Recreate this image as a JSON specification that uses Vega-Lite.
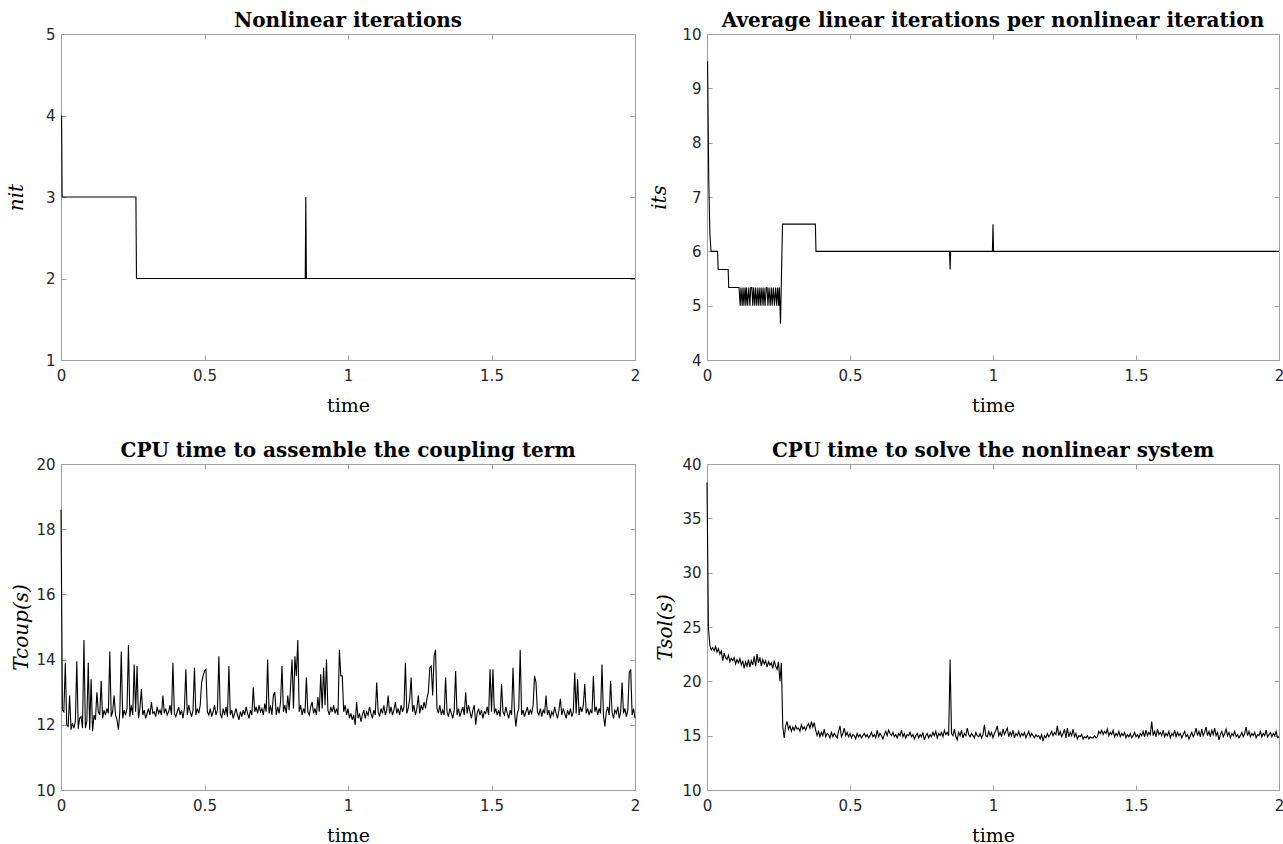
{
"$schema":"https://vega.github.io/schema/vega-lite/v6.json",
"padding":{"left":5,"top":10,"right":2,"bottom":2},
"background":"white",
"config":{
 "view":{"stroke":"#a0a0a0","strokeWidth":1},
 "axis":{"domain":false,"grid":false,"tickColor":"#a0a0a0","tickSize":-5,"tickWidth":1,"labelFont":"DejaVu Sans","labelFontSize":15,"labelColor":"#262626","labelFlush":false,"labelOverlap":false,"titleFont":"DejaVu Serif","titleFontSize":19,"titleFontWeight":"normal","titleColor":"#000000"},
 "axisX":{"labelPadding":13,"titlePadding":13},
 "axisY":{"labelPadding":11,"titlePadding":10},
 "title":{"font":"DejaVu Serif","fontSize":20,"fontWeight":"bold","color":"#000000","offset":-4,"baseline":"alphabetic"},
 "line":{"color":"#000000","strokeWidth":1.1}
},
"datasets":{
"nit":[{"t":0.002,"v":4},{"t":0.004,"v":3},{"t":0.261,"v":3},{"t":0.263,"v":2},{"t":0.851,"v":2},{"t":0.853,"v":3},{"t":0.855,"v":2},{"t":2,"v":2}],
"its":[{"t":0.002,"v":9.5},{"t":0.006,"v":7.333},{"t":0.010,"v":6.333},{"t":0.014,"v":6},{"t":0.037,"v":6},{"t":0.039,"v":5.667},{"t":0.074,"v":5.667},{"t":0.076,"v":5.333},{"t":0.112,"v":5.333},{"t":0.116,"v":5.0},{"t":0.119,"v":5.333},{"t":0.123,"v":5.0},{"t":0.126,"v":5.333},{"t":0.129,"v":5.0},{"t":0.133,"v":5.333},{"t":0.136,"v":5.0},{"t":0.138,"v":5.333},{"t":0.142,"v":5.0},{"t":0.146,"v":5.333},{"t":0.150,"v":5.0},{"t":0.153,"v":5.333},{"t":0.157,"v":5.333},{"t":0.160,"v":5.0},{"t":0.163,"v":5.333},{"t":0.167,"v":5.0},{"t":0.170,"v":5.333},{"t":0.174,"v":5.0},{"t":0.178,"v":5.333},{"t":0.181,"v":5.0},{"t":0.185,"v":5.333},{"t":0.188,"v":5.0},{"t":0.192,"v":5.333},{"t":0.196,"v":5.0},{"t":0.199,"v":5.333},{"t":0.203,"v":5.0},{"t":0.207,"v":5.333},{"t":0.210,"v":5.333},{"t":0.213,"v":5.0},{"t":0.217,"v":5.333},{"t":0.221,"v":5.0},{"t":0.225,"v":5.333},{"t":0.228,"v":5.0},{"t":0.232,"v":5.333},{"t":0.236,"v":5.0},{"t":0.240,"v":5.333},{"t":0.244,"v":5.0},{"t":0.247,"v":5.333},{"t":0.251,"v":5.0},{"t":0.253,"v":5.333},{"t":0.257,"v":4.667},{"t":0.264,"v":6.5},{"t":0.379,"v":6.5},{"t":0.381,"v":6},{"t":0.848,"v":6},{"t":0.850,"v":5.667},{"t":0.852,"v":6},{"t":0.998,"v":6},{"t":1.000,"v":6.5},{"t":1.002,"v":6},{"t":2,"v":6}],
"coup":[{"t":0,"v":18.6},{"t":0.005,"v":12.45},{"t":0.01,"v":12.4},{"t":0.015,"v":13.9},{"t":0.02,"v":12.0},{"t":0.025,"v":11.95},{"t":0.03,"v":12.9},{"t":0.035,"v":11.85},{"t":0.04,"v":12.05},{"t":0.045,"v":11.9},
{"t":0.05,"v":12.1},{"t":0.055,"v":13.95},{"t":0.06,"v":11.88},{"t":0.065,"v":12.2},{"t":0.07,"v":12.25},{"t":0.075,"v":11.9},{"t":0.08,"v":14.6},{"t":0.085,"v":11.9},{"t":0.09,"v":12.1},{"t":0.095,"v":13.9},
{"t":0.1,"v":11.85},{"t":0.105,"v":13.4},{"t":0.11,"v":11.8},{"t":0.115,"v":12.3},{"t":0.12,"v":12.15},{"t":0.125,"v":13.0},{"t":0.13,"v":12.4},{"t":0.135,"v":12.3},{"t":0.14,"v":13.35},{"t":0.145,"v":12.2},
{"t":0.15,"v":12.45},{"t":0.155,"v":12.3},{"t":0.16,"v":12.5},{"t":0.165,"v":12.35},{"t":0.17,"v":14.25},{"t":0.175,"v":12.25},{"t":0.18,"v":12.4},{"t":0.185,"v":12.9},{"t":0.19,"v":12.3},{"t":0.195,"v":12.15},
{"t":0.2,"v":11.85},{"t":0.205,"v":12.4},{"t":0.21,"v":14.25},{"t":0.215,"v":12.2},{"t":0.22,"v":12.45},{"t":0.225,"v":12.3},{"t":0.23,"v":12.5},{"t":0.235,"v":14.45},{"t":0.24,"v":12.25},{"t":0.245,"v":12.6},
{"t":0.25,"v":12.3},{"t":0.255,"v":13.85},{"t":0.26,"v":12.4},{"t":0.265,"v":13.8},{"t":0.27,"v":12.2},{"t":0.275,"v":12.5},{"t":0.28,"v":13.1},{"t":0.285,"v":12.3},{"t":0.29,"v":12.45},{"t":0.295,"v":12.2},
{"t":0.3,"v":12.35},{"t":0.305,"v":12.5},{"t":0.31,"v":12.3},{"t":0.315,"v":12.7},{"t":0.32,"v":12.35},{"t":0.325,"v":12.4},{"t":0.33,"v":12.25},{"t":0.335,"v":12.55},{"t":0.34,"v":12.35},{"t":0.345,"v":12.45},
{"t":0.35,"v":12.3},{"t":0.355,"v":12.9},{"t":0.36,"v":12.35},{"t":0.365,"v":12.5},{"t":0.37,"v":12.3},{"t":0.375,"v":12.4},{"t":0.38,"v":12.6},{"t":0.385,"v":12.3},{"t":0.39,"v":13.9},{"t":0.395,"v":12.35},
{"t":0.4,"v":12.25},{"t":0.405,"v":12.4},{"t":0.41,"v":12.55},{"t":0.415,"v":12.3},{"t":0.42,"v":12.45},{"t":0.425,"v":12.2},{"t":0.43,"v":12.5},{"t":0.435,"v":13.7},{"t":0.44,"v":12.3},{"t":0.445,"v":12.6},
{"t":0.45,"v":12.4},{"t":0.455,"v":12.25},{"t":0.46,"v":12.45},{"t":0.465,"v":13.75},{"t":0.47,"v":12.3},{"t":0.475,"v":12.5},{"t":0.48,"v":12.35},{"t":0.485,"v":12.6},{"t":0.49,"v":13.3},{"t":0.495,"v":13.5},
{"t":0.5,"v":13.65},{"t":0.505,"v":13.7},{"t":0.51,"v":12.4},{"t":0.515,"v":12.3},{"t":0.52,"v":12.5},{"t":0.525,"v":12.25},{"t":0.53,"v":12.4},{"t":0.535,"v":12.6},{"t":0.54,"v":12.3},{"t":0.545,"v":12.45},
{"t":0.55,"v":14.1},{"t":0.555,"v":12.35},{"t":0.56,"v":12.2},{"t":0.565,"v":12.5},{"t":0.57,"v":12.3},{"t":0.575,"v":12.55},{"t":0.58,"v":12.25},{"t":0.585,"v":13.8},{"t":0.59,"v":12.3},{"t":0.595,"v":12.45},
{"t":0.6,"v":12.2},{"t":0.605,"v":12.35},{"t":0.61,"v":12.5},{"t":0.615,"v":12.3},{"t":0.62,"v":12.15},{"t":0.625,"v":12.4},{"t":0.63,"v":12.25},{"t":0.635,"v":12.45},{"t":0.64,"v":12.3},{"t":0.645,"v":12.55},
{"t":0.65,"v":12.35},{"t":0.655,"v":12.2},{"t":0.66,"v":12.45},{"t":0.665,"v":12.3},{"t":0.67,"v":13.15},{"t":0.675,"v":12.4},{"t":0.68,"v":12.55},{"t":0.685,"v":12.35},{"t":0.69,"v":12.6},{"t":0.695,"v":12.4},
{"t":0.7,"v":12.5},{"t":0.705,"v":12.3},{"t":0.71,"v":12.65},{"t":0.715,"v":12.4},{"t":0.72,"v":14.0},{"t":0.725,"v":12.35},{"t":0.73,"v":12.6},{"t":0.735,"v":12.3},{"t":0.74,"v":12.9},{"t":0.745,"v":13.0},
{"t":0.75,"v":12.3},{"t":0.755,"v":12.55},{"t":0.76,"v":12.35},{"t":0.765,"v":12.7},{"t":0.77,"v":13.8},{"t":0.775,"v":12.4},{"t":0.78,"v":12.6},{"t":0.785,"v":12.35},{"t":0.79,"v":12.9},{"t":0.795,"v":12.45},
{"t":0.8,"v":13.2},{"t":0.805,"v":14.0},{"t":0.81,"v":12.5},{"t":0.815,"v":14.1},{"t":0.82,"v":13.5},{"t":0.825,"v":14.6},{"t":0.83,"v":12.4},{"t":0.835,"v":12.6},{"t":0.84,"v":12.3},{"t":0.845,"v":12.5},
{"t":0.85,"v":12.35},{"t":0.855,"v":13.45},{"t":0.86,"v":12.4},{"t":0.865,"v":12.3},{"t":0.87,"v":12.55},{"t":0.875,"v":12.7},{"t":0.88,"v":12.35},{"t":0.885,"v":12.5},{"t":0.89,"v":12.3},{"t":0.895,"v":12.85},
{"t":0.9,"v":12.4},{"t":0.905,"v":13.55},{"t":0.91,"v":12.5},{"t":0.915,"v":13.75},{"t":0.92,"v":12.6},{"t":0.925,"v":14.0},{"t":0.93,"v":12.45},{"t":0.935,"v":12.3},{"t":0.94,"v":12.55},{"t":0.945,"v":12.4},
{"t":0.95,"v":12.6},{"t":0.955,"v":12.35},{"t":0.96,"v":12.5},{"t":0.965,"v":12.3},{"t":0.97,"v":14.3},{"t":0.975,"v":13.5},{"t":0.98,"v":13.5},{"t":0.985,"v":12.4},{"t":0.99,"v":12.6},{"t":0.995,"v":12.3},
{"t":1.0,"v":12.5},{"t":1.005,"v":12.2},{"t":1.01,"v":12.35},{"t":1.015,"v":12.15},{"t":1.02,"v":12.3},{"t":1.025,"v":12.0},{"t":1.03,"v":12.7},{"t":1.035,"v":12.2},{"t":1.04,"v":12.35},{"t":1.045,"v":12.1},
{"t":1.05,"v":12.3},{"t":1.055,"v":12.45},{"t":1.06,"v":12.2},{"t":1.065,"v":12.4},{"t":1.07,"v":12.3},{"t":1.075,"v":12.55},{"t":1.08,"v":12.35},{"t":1.085,"v":12.2},{"t":1.09,"v":12.45},{"t":1.095,"v":12.3},
{"t":1.1,"v":13.3},{"t":1.105,"v":12.4},{"t":1.11,"v":12.25},{"t":1.115,"v":12.5},{"t":1.12,"v":12.35},{"t":1.125,"v":12.6},{"t":1.13,"v":12.3},{"t":1.135,"v":12.45},{"t":1.14,"v":12.9},{"t":1.145,"v":12.35},
{"t":1.15,"v":12.55},{"t":1.155,"v":12.3},{"t":1.16,"v":12.45},{"t":1.165,"v":12.7},{"t":1.17,"v":12.35},{"t":1.175,"v":12.5},{"t":1.18,"v":12.3},{"t":1.185,"v":12.6},{"t":1.19,"v":12.4},{"t":1.195,"v":12.55},
{"t":1.2,"v":13.9},{"t":1.205,"v":12.35},{"t":1.21,"v":12.5},{"t":1.215,"v":12.8},{"t":1.22,"v":13.45},{"t":1.225,"v":12.4},{"t":1.23,"v":12.6},{"t":1.235,"v":12.3},{"t":1.24,"v":12.5},{"t":1.245,"v":12.9},
{"t":1.25,"v":12.35},{"t":1.255,"v":12.6},{"t":1.26,"v":12.45},{"t":1.265,"v":12.7},{"t":1.27,"v":12.5},{"t":1.275,"v":12.8},{"t":1.28,"v":13.0},{"t":1.285,"v":13.75},{"t":1.29,"v":13.8},{"t":1.295,"v":12.9},
{"t":1.3,"v":14.1},{"t":1.305,"v":14.3},{"t":1.31,"v":12.5},{"t":1.315,"v":12.35},{"t":1.32,"v":12.6},{"t":1.325,"v":12.3},{"t":1.33,"v":12.45},{"t":1.335,"v":12.3},{"t":1.34,"v":13.45},{"t":1.345,"v":12.4},
{"t":1.35,"v":12.25},{"t":1.355,"v":12.5},{"t":1.36,"v":12.35},{"t":1.365,"v":12.2},{"t":1.37,"v":12.45},{"t":1.375,"v":13.65},{"t":1.38,"v":12.3},{"t":1.385,"v":12.5},{"t":1.39,"v":12.25},{"t":1.395,"v":12.4},
{"t":1.4,"v":12.55},{"t":1.405,"v":12.3},{"t":1.41,"v":13.0},{"t":1.415,"v":12.35},{"t":1.42,"v":12.6},{"t":1.425,"v":12.4},{"t":1.43,"v":12.2},{"t":1.435,"v":12.45},{"t":1.44,"v":12.6},{"t":1.445,"v":12.0},
{"t":1.45,"v":12.35},{"t":1.455,"v":12.5},{"t":1.46,"v":12.3},{"t":1.465,"v":12.45},{"t":1.47,"v":12.2},{"t":1.475,"v":12.4},{"t":1.48,"v":12.35},{"t":1.485,"v":12.55},{"t":1.49,"v":12.3},{"t":1.495,"v":13.7},
{"t":1.5,"v":12.4},{"t":1.505,"v":13.7},{"t":1.51,"v":12.35},{"t":1.515,"v":12.5},{"t":1.52,"v":12.3},{"t":1.525,"v":12.45},{"t":1.53,"v":12.25},{"t":1.535,"v":13.25},{"t":1.54,"v":12.4},{"t":1.545,"v":12.3},
{"t":1.55,"v":12.55},{"t":1.555,"v":12.35},{"t":1.56,"v":12.2},{"t":1.565,"v":12.45},{"t":1.57,"v":12.3},{"t":1.575,"v":13.75},{"t":1.58,"v":12.4},{"t":1.585,"v":11.95},{"t":1.59,"v":12.35},{"t":1.595,"v":12.5},
{"t":1.6,"v":14.3},{"t":1.605,"v":12.3},{"t":1.61,"v":12.45},{"t":1.615,"v":12.25},{"t":1.62,"v":12.4},{"t":1.625,"v":12.55},{"t":1.63,"v":12.3},{"t":1.635,"v":12.45},{"t":1.64,"v":12.35},{"t":1.645,"v":12.6},
{"t":1.65,"v":13.5},{"t":1.655,"v":13.3},{"t":1.66,"v":12.4},{"t":1.665,"v":12.3},{"t":1.67,"v":12.5},{"t":1.675,"v":12.25},{"t":1.68,"v":12.45},{"t":1.685,"v":12.35},{"t":1.69,"v":12.9},{"t":1.695,"v":12.3},
{"t":1.7,"v":12.45},{"t":1.705,"v":12.2},{"t":1.71,"v":12.4},{"t":1.715,"v":12.3},{"t":1.72,"v":12.55},{"t":1.725,"v":12.35},{"t":1.73,"v":12.2},{"t":1.735,"v":12.45},{"t":1.74,"v":12.8},{"t":1.745,"v":12.3},
{"t":1.75,"v":12.5},{"t":1.755,"v":12.35},{"t":1.76,"v":12.2},{"t":1.765,"v":12.45},{"t":1.77,"v":12.3},{"t":1.775,"v":12.5},{"t":1.78,"v":12.25},{"t":1.785,"v":12.4},{"t":1.79,"v":13.6},{"t":1.795,"v":12.35},
{"t":1.8,"v":13.4},{"t":1.805,"v":12.3},{"t":1.81,"v":12.55},{"t":1.815,"v":12.4},{"t":1.82,"v":12.6},{"t":1.825,"v":13.25},{"t":1.83,"v":12.35},{"t":1.835,"v":12.5},{"t":1.84,"v":12.3},{"t":1.845,"v":12.45},
{"t":1.85,"v":12.35},{"t":1.855,"v":13.5},{"t":1.86,"v":12.4},{"t":1.865,"v":12.55},{"t":1.87,"v":12.3},{"t":1.875,"v":12.5},{"t":1.88,"v":12.35},{"t":1.885,"v":13.85},{"t":1.89,"v":12.3},{"t":1.895,"v":11.95},
{"t":1.9,"v":12.4},{"t":1.905,"v":12.55},{"t":1.91,"v":12.3},{"t":1.915,"v":13.35},{"t":1.92,"v":12.4},{"t":1.925,"v":12.2},{"t":1.93,"v":12.45},{"t":1.935,"v":12.35},{"t":1.94,"v":12.55},{"t":1.945,"v":12.2},
{"t":1.95,"v":12.4},{"t":1.955,"v":13.3},{"t":1.96,"v":12.35},{"t":1.965,"v":12.5},{"t":1.97,"v":12.25},{"t":1.975,"v":12.45},{"t":1.98,"v":13.6},{"t":1.985,"v":13.7},{"t":1.99,"v":12.3},{"t":1.995,"v":12.5},
{"t":2.0,"v":12.2}],
"sol":[{"t":0,"v":38.3},{"t":0.005,"v":24.9},{"t":0.01,"v":23.3},{"t":0.015,"v":22.9},{"t":0.02,"v":23.1},{"t":0.025,"v":22.8},{"t":0.03,"v":23.2},{"t":0.035,"v":22.7},{"t":0.04,"v":23.0},{"t":0.045,"v":22.5},
{"t":0.05,"v":22.8},{"t":0.055,"v":21.9},{"t":0.06,"v":22.6},{"t":0.065,"v":22.2},{"t":0.07,"v":22.0},{"t":0.075,"v":22.4},{"t":0.08,"v":21.8},{"t":0.085,"v":22.1},{"t":0.09,"v":21.9},{"t":0.095,"v":22.2},
{"t":0.1,"v":21.6},{"t":0.105,"v":22.0},{"t":0.11,"v":21.7},{"t":0.115,"v":22.1},{"t":0.12,"v":21.5},{"t":0.125,"v":21.9},{"t":0.13,"v":21.2},{"t":0.135,"v":21.8},{"t":0.14,"v":21.4},{"t":0.145,"v":22.0},
{"t":0.15,"v":21.3},{"t":0.155,"v":21.9},{"t":0.16,"v":21.5},{"t":0.165,"v":22.3},{"t":0.17,"v":21.4},{"t":0.175,"v":22.5},{"t":0.18,"v":21.7},{"t":0.185,"v":22.2},{"t":0.19,"v":21.4},{"t":0.195,"v":22.0},
{"t":0.2,"v":21.6},{"t":0.205,"v":21.9},{"t":0.21,"v":21.3},{"t":0.215,"v":21.8},{"t":0.22,"v":21.5},{"t":0.225,"v":21.7},{"t":0.23,"v":21.2},{"t":0.235,"v":21.9},{"t":0.24,"v":21.4},{"t":0.245,"v":21.1},
{"t":0.25,"v":21.8},{"t":0.255,"v":20.0},{"t":0.26,"v":21.7},{"t":0.265,"v":15.8},{"t":0.27,"v":14.8},{"t":0.275,"v":15.9},{"t":0.28,"v":16.3},{"t":0.285,"v":15.6},{"t":0.29,"v":15.9},{"t":0.295,"v":15.4},
{"t":0.3,"v":15.8},{"t":0.305,"v":15.5},{"t":0.31,"v":15.9},{"t":0.315,"v":15.6},{"t":0.32,"v":15.7},{"t":0.325,"v":15.4},{"t":0.33,"v":16.0},{"t":0.335,"v":15.6},{"t":0.34,"v":15.8},{"t":0.345,"v":15.5},
{"t":0.35,"v":15.9},{"t":0.355,"v":16.1},{"t":0.36,"v":15.7},{"t":0.365,"v":16.3},{"t":0.37,"v":15.8},{"t":0.375,"v":16.2},{"t":0.38,"v":15.5},{"t":0.385,"v":15.0},{"t":0.39,"v":15.4},{"t":0.395,"v":14.9},
{"t":0.4,"v":15.3},{"t":0.405,"v":15.0},{"t":0.41,"v":15.6},{"t":0.415,"v":14.9},{"t":0.42,"v":15.2},{"t":0.425,"v":15.1},{"t":0.43,"v":14.8},{"t":0.435,"v":15.3},{"t":0.44,"v":14.9},{"t":0.445,"v":15.2},
{"t":0.45,"v":15.0},{"t":0.455,"v":14.8},{"t":0.46,"v":15.4},{"t":0.465,"v":15.9},{"t":0.47,"v":14.9},{"t":0.475,"v":15.2},{"t":0.48,"v":15.7},{"t":0.485,"v":15.0},{"t":0.49,"v":15.3},{"t":0.495,"v":14.9},
{"t":0.5,"v":15.2},{"t":0.505,"v":14.8},{"t":0.51,"v":15.1},{"t":0.515,"v":15.0},{"t":0.52,"v":14.7},{"t":0.525,"v":15.2},{"t":0.53,"v":14.9},{"t":0.535,"v":15.1},{"t":0.54,"v":14.8},{"t":0.545,"v":15.0},
{"t":0.55,"v":15.2},{"t":0.555,"v":14.9},{"t":0.56,"v":15.1},{"t":0.565,"v":14.8},{"t":0.57,"v":15.0},{"t":0.575,"v":15.3},{"t":0.58,"v":14.9},{"t":0.585,"v":15.1},{"t":0.59,"v":14.8},{"t":0.595,"v":15.5},
{"t":0.6,"v":14.9},{"t":0.605,"v":15.2},{"t":0.61,"v":15.0},{"t":0.615,"v":14.7},{"t":0.62,"v":15.1},{"t":0.625,"v":15.4},{"t":0.63,"v":15.0},{"t":0.635,"v":15.5},{"t":0.64,"v":15.2},{"t":0.645,"v":15.0},
{"t":0.65,"v":15.3},{"t":0.655,"v":14.9},{"t":0.66,"v":15.1},{"t":0.665,"v":14.8},{"t":0.67,"v":15.2},{"t":0.675,"v":15.0},{"t":0.68,"v":15.5},{"t":0.685,"v":14.9},{"t":0.69,"v":15.2},{"t":0.695,"v":14.8},
{"t":0.7,"v":15.1},{"t":0.705,"v":15.0},{"t":0.71,"v":15.3},{"t":0.715,"v":14.9},{"t":0.72,"v":15.1},{"t":0.725,"v":14.7},{"t":0.73,"v":15.0},{"t":0.735,"v":15.2},{"t":0.74,"v":14.8},{"t":0.745,"v":15.1},
{"t":0.75,"v":14.9},{"t":0.755,"v":15.3},{"t":0.76,"v":14.6},{"t":0.765,"v":15.0},{"t":0.77,"v":15.2},{"t":0.775,"v":14.8},{"t":0.78,"v":15.1},{"t":0.785,"v":14.9},{"t":0.79,"v":15.3},{"t":0.795,"v":15.0},
{"t":0.8,"v":15.4},{"t":0.805,"v":14.8},{"t":0.81,"v":15.2},{"t":0.815,"v":15.0},{"t":0.82,"v":15.3},{"t":0.825,"v":14.9},{"t":0.83,"v":15.5},{"t":0.835,"v":15.1},{"t":0.84,"v":15.3},{"t":0.845,"v":15.0},
{"t":0.85,"v":22.0},{"t":0.855,"v":15.2},{"t":0.86,"v":15.0},{"t":0.865,"v":15.6},{"t":0.87,"v":14.9},{"t":0.875,"v":14.6},{"t":0.88,"v":15.3},{"t":0.885,"v":15.0},{"t":0.89,"v":15.5},{"t":0.895,"v":14.8},
{"t":0.9,"v":15.2},{"t":0.905,"v":15.0},{"t":0.91,"v":15.7},{"t":0.915,"v":15.1},{"t":0.92,"v":14.9},{"t":0.925,"v":15.2},{"t":0.93,"v":15.0},{"t":0.935,"v":14.8},{"t":0.94,"v":15.3},{"t":0.945,"v":15.0},
{"t":0.95,"v":14.9},{"t":0.955,"v":15.2},{"t":0.96,"v":14.8},{"t":0.965,"v":15.1},{"t":0.97,"v":16.0},{"t":0.975,"v":15.0},{"t":0.98,"v":14.9},{"t":0.985,"v":15.4},{"t":0.99,"v":15.0},{"t":0.995,"v":15.3},
{"t":1.0,"v":14.8},{"t":1.005,"v":15.2},{"t":1.01,"v":15.5},{"t":1.015,"v":15.9},{"t":1.02,"v":15.0},{"t":1.025,"v":15.3},{"t":1.03,"v":14.9},{"t":1.035,"v":15.6},{"t":1.04,"v":15.1},{"t":1.045,"v":15.4},
{"t":1.05,"v":15.7},{"t":1.055,"v":14.9},{"t":1.06,"v":15.3},{"t":1.065,"v":15.0},{"t":1.07,"v":15.5},{"t":1.075,"v":14.8},{"t":1.08,"v":15.2},{"t":1.085,"v":15.0},{"t":1.09,"v":15.4},{"t":1.095,"v":14.9},
{"t":1.1,"v":15.2},{"t":1.105,"v":15.0},{"t":1.11,"v":15.3},{"t":1.115,"v":14.8},{"t":1.12,"v":15.1},{"t":1.125,"v":15.4},{"t":1.13,"v":14.9},{"t":1.135,"v":15.2},{"t":1.14,"v":15.0},{"t":1.145,"v":14.8},
{"t":1.15,"v":15.1},{"t":1.155,"v":14.9},{"t":1.16,"v":15.0},{"t":1.165,"v":14.7},{"t":1.17,"v":15.1},{"t":1.175,"v":14.5},{"t":1.18,"v":15.0},{"t":1.185,"v":14.8},{"t":1.19,"v":15.2},{"t":1.195,"v":14.9},
{"t":1.2,"v":15.1},{"t":1.205,"v":15.4},{"t":1.21,"v":15.0},{"t":1.215,"v":15.3},{"t":1.22,"v":15.1},{"t":1.225,"v":15.9},{"t":1.23,"v":15.0},{"t":1.235,"v":15.4},{"t":1.24,"v":14.9},{"t":1.245,"v":15.2},
{"t":1.25,"v":15.6},{"t":1.255,"v":14.8},{"t":1.26,"v":15.7},{"t":1.265,"v":14.9},{"t":1.27,"v":15.3},{"t":1.275,"v":15.0},{"t":1.28,"v":15.6},{"t":1.285,"v":14.9},{"t":1.29,"v":15.2},{"t":1.295,"v":14.7},
{"t":1.3,"v":15.0},{"t":1.305,"v":14.9},{"t":1.31,"v":15.1},{"t":1.315,"v":14.7},{"t":1.32,"v":14.9},{"t":1.325,"v":14.8},{"t":1.33,"v":15.0},{"t":1.335,"v":14.7},{"t":1.34,"v":14.9},{"t":1.345,"v":14.8},
{"t":1.35,"v":14.8},{"t":1.355,"v":15.0},{"t":1.36,"v":14.8},{"t":1.365,"v":14.9},{"t":1.37,"v":15.4},{"t":1.375,"v":15.2},{"t":1.38,"v":15.5},{"t":1.385,"v":15.1},{"t":1.39,"v":15.4},{"t":1.395,"v":15.2},
{"t":1.4,"v":15.6},{"t":1.405,"v":15.0},{"t":1.41,"v":15.3},{"t":1.415,"v":15.1},{"t":1.42,"v":15.5},{"t":1.425,"v":14.9},{"t":1.43,"v":15.2},{"t":1.435,"v":15.0},{"t":1.44,"v":15.4},{"t":1.445,"v":14.9},
{"t":1.45,"v":15.2},{"t":1.455,"v":15.0},{"t":1.46,"v":15.3},{"t":1.465,"v":14.8},{"t":1.47,"v":15.1},{"t":1.475,"v":14.9},{"t":1.48,"v":15.2},{"t":1.485,"v":14.8},{"t":1.49,"v":15.0},{"t":1.495,"v":15.3},
{"t":1.5,"v":14.9},{"t":1.505,"v":15.1},{"t":1.51,"v":14.8},{"t":1.515,"v":15.2},{"t":1.52,"v":15.0},{"t":1.525,"v":15.4},{"t":1.53,"v":14.9},{"t":1.535,"v":15.5},{"t":1.54,"v":15.0},{"t":1.545,"v":15.3},
{"t":1.55,"v":15.1},{"t":1.555,"v":16.3},{"t":1.56,"v":15.0},{"t":1.565,"v":15.4},{"t":1.57,"v":14.9},{"t":1.575,"v":15.6},{"t":1.58,"v":15.1},{"t":1.585,"v":15.3},{"t":1.59,"v":15.0},{"t":1.595,"v":15.5},
{"t":1.6,"v":14.9},{"t":1.605,"v":15.2},{"t":1.61,"v":15.0},{"t":1.615,"v":15.4},{"t":1.62,"v":14.8},{"t":1.625,"v":15.2},{"t":1.63,"v":15.0},{"t":1.635,"v":15.5},{"t":1.64,"v":14.9},{"t":1.645,"v":15.3},
{"t":1.65,"v":15.0},{"t":1.655,"v":15.2},{"t":1.66,"v":14.8},{"t":1.665,"v":15.1},{"t":1.67,"v":15.4},{"t":1.675,"v":14.9},{"t":1.68,"v":15.1},{"t":1.685,"v":14.7},{"t":1.69,"v":15.0},{"t":1.695,"v":15.3},
{"t":1.7,"v":14.9},{"t":1.705,"v":15.2},{"t":1.71,"v":15.7},{"t":1.715,"v":15.0},{"t":1.72,"v":15.4},{"t":1.725,"v":14.9},{"t":1.73,"v":15.6},{"t":1.735,"v":15.0},{"t":1.74,"v":15.3},{"t":1.745,"v":15.8},
{"t":1.75,"v":15.0},{"t":1.755,"v":15.4},{"t":1.76,"v":14.9},{"t":1.765,"v":15.5},{"t":1.77,"v":15.1},{"t":1.775,"v":15.7},{"t":1.78,"v":15.0},{"t":1.785,"v":15.3},{"t":1.79,"v":14.6},{"t":1.795,"v":15.1},
{"t":1.8,"v":15.4},{"t":1.805,"v":14.9},{"t":1.81,"v":15.2},{"t":1.815,"v":15.6},{"t":1.82,"v":15.0},{"t":1.825,"v":15.3},{"t":1.83,"v":14.8},{"t":1.835,"v":15.2},{"t":1.84,"v":15.0},{"t":1.845,"v":15.4},
{"t":1.85,"v":14.9},{"t":1.855,"v":15.1},{"t":1.86,"v":14.8},{"t":1.865,"v":15.0},{"t":1.87,"v":15.3},{"t":1.875,"v":14.9},{"t":1.88,"v":15.2},{"t":1.885,"v":15.8},{"t":1.89,"v":15.0},{"t":1.895,"v":15.4},
{"t":1.9,"v":14.9},{"t":1.905,"v":15.2},{"t":1.91,"v":15.0},{"t":1.915,"v":15.3},{"t":1.92,"v":14.8},{"t":1.925,"v":15.1},{"t":1.93,"v":15.0},{"t":1.935,"v":15.4},{"t":1.94,"v":14.9},{"t":1.945,"v":15.2},
{"t":1.95,"v":15.0},{"t":1.955,"v":15.5},{"t":1.96,"v":14.9},{"t":1.965,"v":15.1},{"t":1.97,"v":15.3},{"t":1.975,"v":14.9},{"t":1.98,"v":15.2},{"t":1.985,"v":15.0},{"t":1.99,"v":15.4},{"t":1.995,"v":14.8},
{"t":2.0,"v":14.9}]
},
"bounds":"flush",
"columns":2,
"spacing":{"row":104,"column":72},
"concat":[
 {"title":"Nonlinear iterations","width":574,"height":326,"data":{"name":"nit"},
  "layer":[
   {"mark":"line","encoding":{"x":{"field":"t","type":"quantitative","scale":{"domain":[0,2],"nice":false},"axis":{"title":"time","values":[0,0.5,1,1.5,2],"format":"~g"}},"y":{"field":"v","type":"quantitative","scale":{"domain":[1,5],"nice":false},"axis":{"title":"nit","titleFontStyle":"italic","titleFontSize":20,"titlePadding":19,"values":[1,2,3,4,5],"format":"d"}}}},
   {"mark":{"type":"line","opacity":0},"encoding":{"x":{"field":"t","type":"quantitative","axis":{"orient":"top","labels":false,"title":null,"values":[0,0.5,1,1.5,2]}},"y":{"field":"v","type":"quantitative","axis":{"orient":"right","labels":false,"title":null,"values":[1,2,3,4,5]}}}}
  ],
  "resolve":{"axis":{"x":"independent","y":"independent"}}},
 {"title":"Average linear iterations per nonlinear iteration","width":572,"height":326,"data":{"name":"its"},
  "layer":[
   {"mark":"line","encoding":{"x":{"field":"t","type":"quantitative","scale":{"domain":[0,2],"nice":false},"axis":{"title":"time","values":[0,0.5,1,1.5,2],"format":"~g"}},"y":{"field":"v","type":"quantitative","scale":{"domain":[4,10],"nice":false},"axis":{"title":"its","titleFontStyle":"italic","titleFontSize":20,"titlePadding":12,"values":[4,5,6,7,8,9,10],"format":"d"}}}},
   {"mark":{"type":"line","opacity":0},"encoding":{"x":{"field":"t","type":"quantitative","axis":{"orient":"top","labels":false,"title":null,"values":[0,0.5,1,1.5,2]}},"y":{"field":"v","type":"quantitative","axis":{"orient":"right","labels":false,"title":null,"values":[4,5,6,7,8,9,10]}}}}
  ],
  "resolve":{"axis":{"x":"independent","y":"independent"}}},
 {"title":"CPU time to assemble the coupling term","width":574,"height":326,"data":{"name":"coup"},
  "layer":[
   {"mark":"line","encoding":{"x":{"field":"t","type":"quantitative","scale":{"domain":[0,2],"nice":false},"axis":{"title":"time","values":[0,0.5,1,1.5,2],"format":"~g"}},"y":{"field":"v","type":"quantitative","scale":{"domain":[10,20],"nice":false},"axis":{"title":"Tcoup(s)","titleFontStyle":"italic","titleFontSize":20,"titlePadding":4,"values":[10,12,14,16,18,20],"format":"d"}}}},
   {"mark":{"type":"line","opacity":0},"encoding":{"x":{"field":"t","type":"quantitative","axis":{"orient":"top","labels":false,"title":null,"values":[0,0.5,1,1.5,2]}},"y":{"field":"v","type":"quantitative","axis":{"orient":"right","labels":false,"title":null,"values":[10,12,14,16,18,20]}}}}
  ],
  "resolve":{"axis":{"x":"independent","y":"independent"}}},
 {"title":"CPU time to solve the nonlinear system","width":572,"height":326,"data":{"name":"sol"},
  "layer":[
   {"mark":"line","encoding":{"x":{"field":"t","type":"quantitative","scale":{"domain":[0,2],"nice":false},"axis":{"title":"time","values":[0,0.5,1,1.5,2],"format":"~g"}},"y":{"field":"v","type":"quantitative","scale":{"domain":[10,40],"nice":false},"axis":{"title":"Tsol(s)","titleFontStyle":"italic","titleFontSize":20,"titlePadding":6,"values":[10,15,20,25,30,35,40],"format":"d"}}}},
   {"mark":{"type":"line","opacity":0},"encoding":{"x":{"field":"t","type":"quantitative","axis":{"orient":"top","labels":false,"title":null,"values":[0,0.5,1,1.5,2]}},"y":{"field":"v","type":"quantitative","axis":{"orient":"right","labels":false,"title":null,"values":[10,15,20,25,30,35,40]}}}}
  ],
  "resolve":{"axis":{"x":"independent","y":"independent"}}}
]
}
